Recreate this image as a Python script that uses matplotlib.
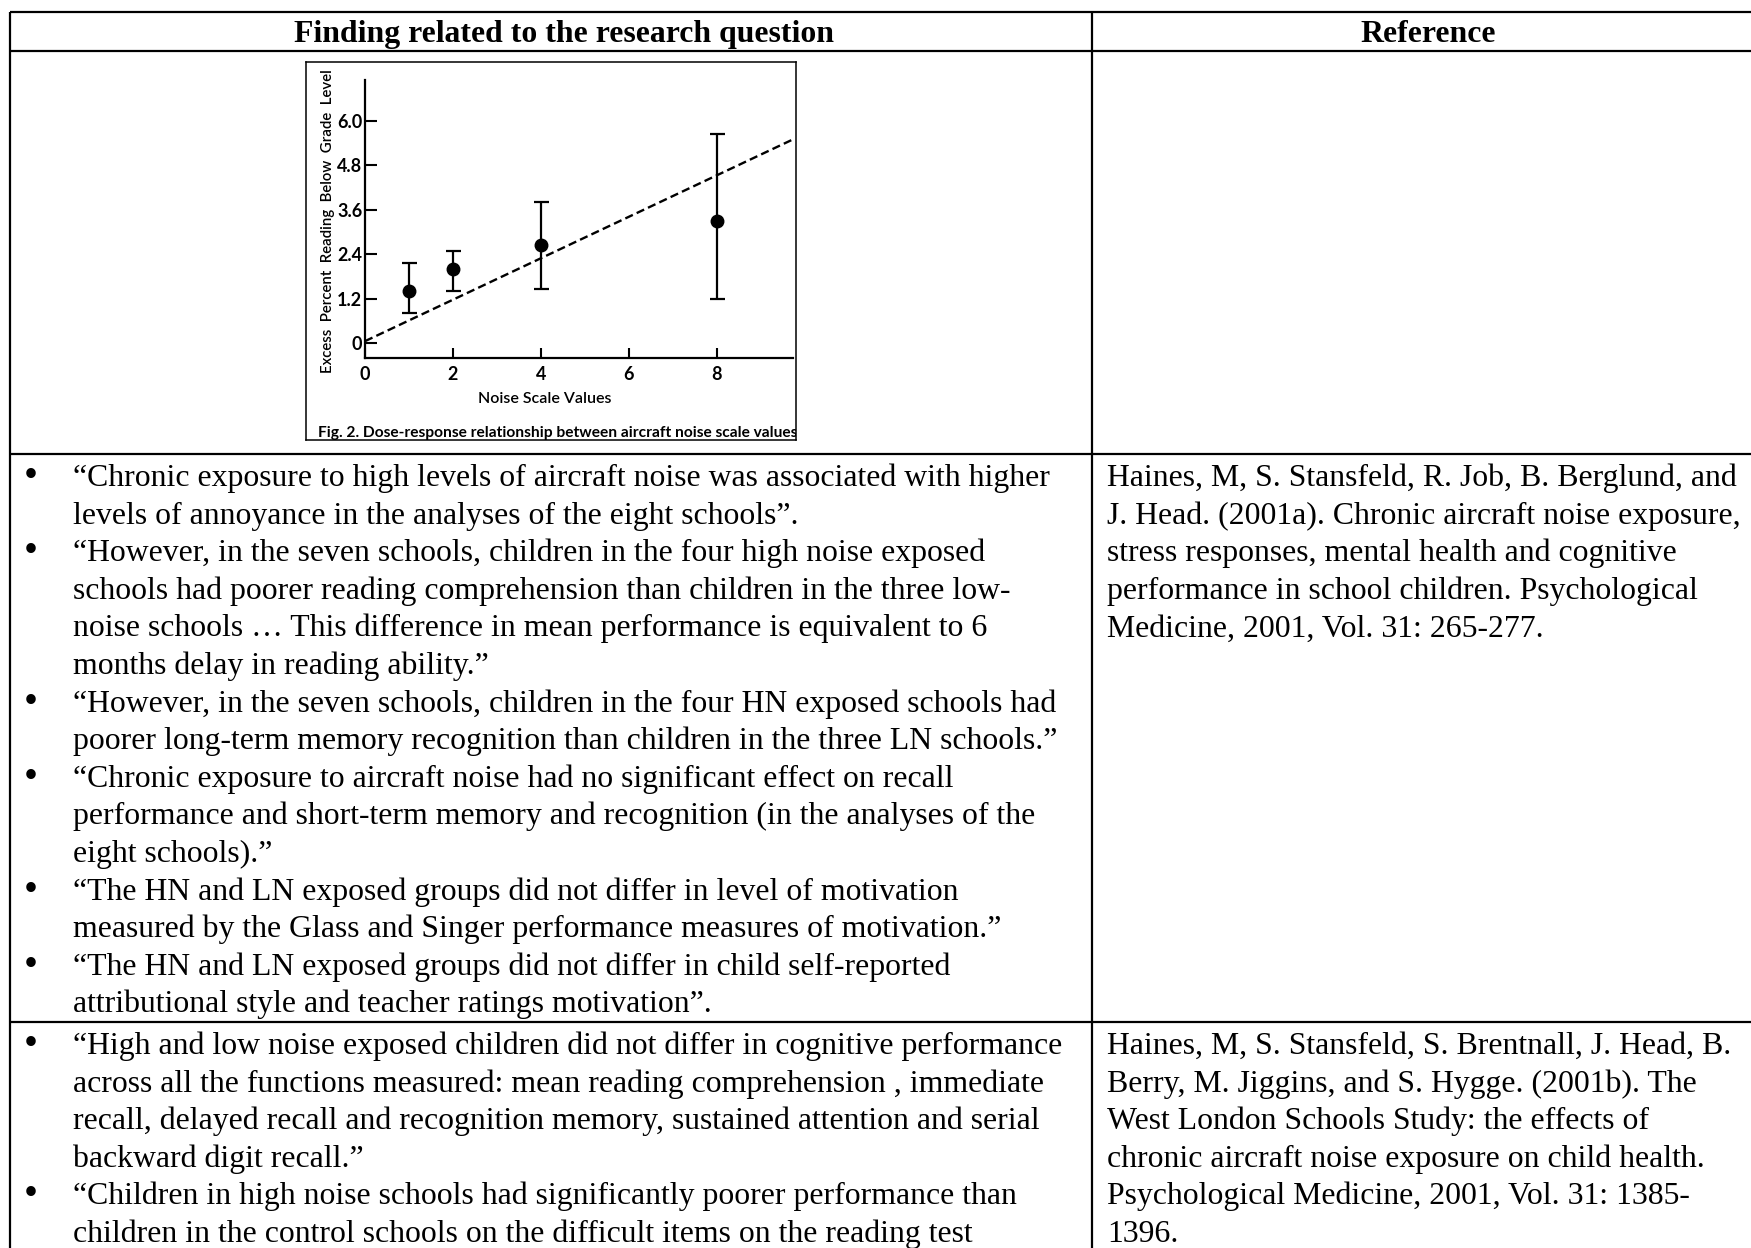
import numpy as np
import matplotlib
matplotlib.use("Agg")
import matplotlib.pyplot as plt

# Fig. 2 panel: excess % reading below grade level vs. noise scale value
noise_scale = [1, 2, 4, 8]
excess_mean = [1.4, 2.0, 2.65, 3.3]
excess_upper = [2.15, 2.5, 3.8, 5.65]
excess_lower = [0.8, 1.4, 1.45, 1.2]
fit_intercept = 0.05
fit_slope = 0.56
x_ticks = [0, 2, 4, 6, 8]
y_ticks = [0, 1.2, 2.4, 3.6, 4.8, 6.0]
y_tick_labels = ["0", "1.2", "2.4", "3.6", "4.8", "6.0"]

header = ["Finding related to the research question", "Reference"]

findings_2001a = [
    ["\u201cChronic exposure to high levels of aircraft noise was associated with higher",
     "levels of annoyance in the analyses of the eight schools\u201d."],
    ["\u201cHowever, in the seven schools, children in the four high noise exposed",
     "schools had poorer reading comprehension than children in the three low-",
     "noise schools \u2026 This difference in mean performance is equivalent to 6",
     "months delay in reading ability.\u201d"],
    ["\u201cHowever, in the seven schools, children in the four HN exposed schools had",
     "poorer long-term memory recognition than children in the three LN schools.\u201d"],
    ["\u201cChronic exposure to aircraft noise had no significant effect on recall",
     "performance and short-term memory and recognition (in the analyses of the",
     "eight schools).\u201d"],
    ["\u201cThe HN and LN exposed groups did not differ in level of motivation",
     "measured by the Glass and Singer performance measures of motivation.\u201d"],
    ["\u201cThe HN and LN exposed groups did not differ in child self-reported",
     "attributional style and teacher ratings motivation\u201d."],
]
ref_2001a = [
    "Haines, M, S. Stansfeld, R. Job, B. Berglund, and",
    "J. Head. (2001a). Chronic aircraft noise exposure,",
    "stress responses, mental health and cognitive",
    "performance in school children. Psychological",
    "Medicine, 2001, Vol. 31: 265-277.",
]
findings_2001b = [
    ["\u201cHigh and low noise exposed children did not differ in cognitive performance",
     "across all the functions measured: mean reading comprehension , immediate",
     "recall, delayed recall and recognition memory, sustained attention and serial",
     "backward digit recall.\u201d"],
    ["\u201cChildren in high noise schools had significantly poorer performance than",
     "children in the control schools on the difficult items on the reading test"],
]
ref_2001b = [
    "Haines, M, S. Stansfeld, S. Brentnall, J. Head, B.",
    "Berry, M. Jiggins, and S. Hygge. (2001b). The",
    "West London Schools Study: the effects of",
    "chronic aircraft noise exposure on child health.",
    "Psychological Medicine, 2001, Vol. 31: 1385-",
    "1396.",
]

W, H = 1751, 1248
fig = plt.figure(figsize=(W / 100, H / 100), dpi=100)

serif = "Liberation Serif"
sans = ["Lato", "DejaVu Sans"]
fs = 22.9
lead = 37.6

# table drawn in pixel coordinates
tab = fig.add_axes([0, 0, 1, 1])
tab.set_xlim(0, W)
tab.set_ylim(H, 0)
tab.axis("off")

left, mid = 10, 1092
rows = [12.3, 50.7, 454.3, 1022.3]
tab.hlines(rows, left, W, color="black", lw=1.6)
tab.vlines([left, mid], rows[0], H, color="black", lw=1.6)

tab.text(564, 41.7, header[0], fontfamily=serif, fontsize=fs, fontweight="bold",
         ha="center", va="baseline")
tab.text(1428.6, 41.7, header[1], fontfamily=serif, fontsize=fs, fontweight="bold",
         ha="center", va="baseline")


def bullets(groups, y0):
    y = y0
    for group in groups:
        tab.text(31, y + 1, "\u2022", fontfamily=serif, fontsize=fs * 1.25,
                 ha="center", va="baseline")
        for line in group:
            tab.text(72.7, y, line, fontfamily=serif, fontsize=fs, va="baseline")
            y += lead


def reference(lines, y0):
    for i, line in enumerate(lines):
        tab.text(1107, y0 + i * lead, line, fontfamily=serif, fontsize=fs, va="baseline")


bullets(findings_2001a, rows[2] + 31.7)
reference(ref_2001a, rows[2] + 31.7)
bullets(findings_2001b, rows[3] + 31.7)
reference(ref_2001b, rows[3] + 31.7)


def fig_rect(x0, y0, x1, y1):
    return [x0 / W, 1 - y1 / H, (x1 - x0) / W, (y1 - y0) / H]


# frame of the scanned figure
box = fig.add_axes(fig_rect(305.7, 61.7, 795.7, 440))
box.set_xlim(0, 490)
box.set_ylim(378.3, 0)
box.set_xticks([])
box.set_yticks([])
for s in box.spines.values():
    s.set_linewidth(1.1)
box.text(12, 375.5, "Fig. 2. Dose-response relationship between aircraft noise scale values",
         fontfamily=sans, fontweight="bold", fontsize=11.2, va="baseline", clip_on=True)

ax = fig.add_axes(fig_rect(365, 80, 793, 358))
ax.patch.set_alpha(0)
ax.set_xlim(0, 9.74)
ax.set_ylim(-0.405, 7.11)
for side in ("top", "right"):
    ax.spines[side].set_visible(False)
for side in ("left", "bottom"):
    ax.spines[side].set_linewidth(1.6)

lo = np.array(excess_mean) - np.array(excess_lower)
hi = np.array(excess_upper) - np.array(excess_mean)
ax.errorbar(noise_scale, excess_mean, yerr=[lo, hi], fmt="o", color="black",
            ms=9, elinewidth=1.6, capsize=5.4, capthick=1.6)

xf = np.linspace(0, ax.get_xlim()[1], 50)
ax.plot(xf, fit_intercept + fit_slope * xf, color="black", lw=1.7,
        linestyle=(0, (3.5, 1.8)))

ax.set_xticks(x_ticks)
ax.set_yticks(y_ticks)
ax.set_yticklabels(y_tick_labels)
for lab in ax.get_xticklabels() + ax.get_yticklabels():
    lab.set_fontfamily(sans)
    lab.set_fontweight("bold")
    lab.set_fontsize(13)
ax.tick_params(axis="x", direction="in", length=7.2, width=1.5, pad=6)
ax.tick_params(axis="y", direction="in", length=8.6, width=1.5, pad=2)

fig.text(328 / W, 1 - 221 / H, "Excess  Percent  Reading  Below  Grade  Level",
         rotation=90, ha="center", va="center", fontfamily=sans, fontsize=10.8,
         fontweight="semibold")
fig.text(545 / W, 1 - 403 / H, "Noise Scale Values", ha="center", va="baseline",
         fontfamily=sans, fontsize=11.5, fontweight="semibold")

fig.savefig("out.png", dpi=100)
